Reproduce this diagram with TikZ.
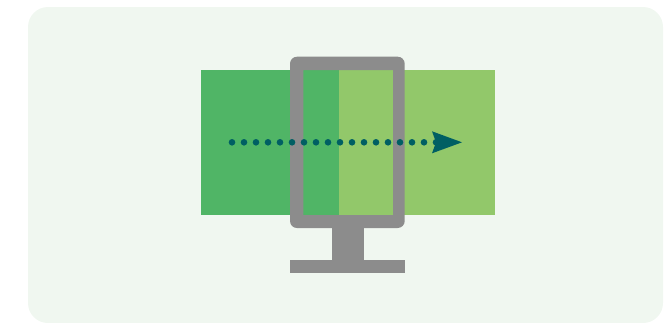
\documentclass[tikz,border=0pt]{standalone}
\usepackage{xcolor}
\usetikzlibrary{arrows.meta,positioning}
\definecolor{panelbg}{HTML}{F0F7F0}
\definecolor{darkpane}{HTML}{50B566}
\definecolor{lightpane}{HTML}{92C86A}
\definecolor{monitor}{HTML}{8C8C8C}
\definecolor{flow}{HTML}{005F63}

\begin{document}
\begin{tikzpicture}[
  x=1pt,y=-1pt,
  node distance=0pt,
  panel/.style={fill=panelbg,rounded corners=20pt,inner sep=0pt,outer sep=0pt,minimum width=635pt,minimum height=316pt},
  pane/.style={inner sep=0pt,outer sep=0pt,minimum height=145pt},
  stand/.style={fill=monitor,inner sep=0pt,outer sep=0pt},
  bezel/.style={fill=monitor,even odd rule},
  flowarrow/.style={draw=flow,line width=6.6pt,line cap=round,dash pattern=on 0pt off 12pt,-{Stealth[length=30pt,width=22pt,inset=4pt,line width=0pt]}}
]
\useasboundingbox (0,0) rectangle (668,322);
\node[panel,anchor=north west] (bg) at (28,7) {};
\node[pane,fill=darkpane,minimum width=138pt,anchor=north west] (left) at (201,70) {};
\node[pane,fill=lightpane,minimum width=156pt,right=of left] (right) {};

\path[bezel] [rounded corners=7pt] (290,56.7) rectangle (404.7,228) [sharp corners] (303.3,70) rectangle (393,215);
\coordinate (bezelbottom) at (347.8,228);
\node[stand,minimum width=31.7pt,minimum height=32pt,below=of bezelbottom] (neck) {};
\node[stand,minimum width=114.7pt,minimum height=12.7pt,below=of neck] (foot) {};

\coordinate (start) at (232,142.3);
\coordinate (end) at (462,142.3);
\draw[flowarrow] (start) -- (end);
\end{tikzpicture}
\end{document}
